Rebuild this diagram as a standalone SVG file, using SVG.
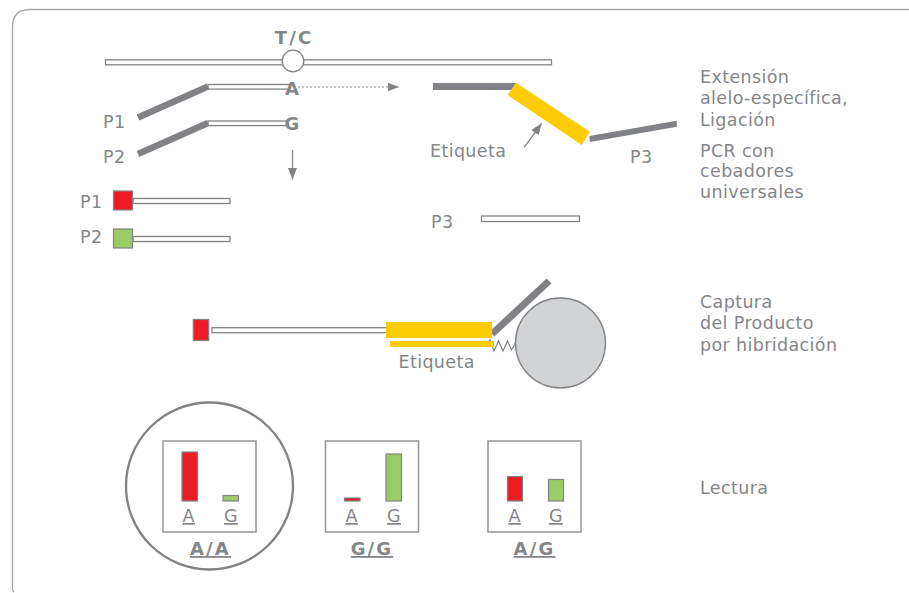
<svg xmlns="http://www.w3.org/2000/svg" width="909" height="593" viewBox="0 0 909 593">
<style>
text{font-family:"DejaVu Sans",Verdana,sans-serif;font-size:17.5px;letter-spacing:.37px;fill:#848689}
.b{font-weight:bold;font-size:18px;letter-spacing:2.2px;text-anchor:middle}
.s{font-weight:bold;font-size:18px;letter-spacing:0;text-anchor:middle}
.m{text-anchor:middle}
.u{text-decoration:underline}
.strand{fill:#fff;stroke:#808285;stroke-width:1.3}
.bar{fill:none;stroke:#808285;stroke-width:6.5}
.red{fill:#ed1c24;stroke:#808285;stroke-width:1.2}
.green{fill:#9ccc65;stroke:#808285;stroke-width:1.2}
.gold{fill:#ffcb05}
.box{fill:#fff;stroke:#939598;stroke-width:1.5}
</style>
<defs>
<marker id="head" markerUnits="userSpaceOnUse" markerWidth="12" markerHeight="10" refX="11.500" refY="5" orient="auto"><path d="M0 .5L11.500 5L0 9.500Z" fill="#808285"/></marker>
</defs>
<!-- outer frame, open on the right and at the bottom -->
<path id="frame" d="M909 9.500H30Q12.500 9.500 12.500 27V590.500L14 592" fill="none" stroke="#a7a9ac" stroke-width="1.300"/>

<g id="template">
<rect class="strand" x="105.500" y="59.800" width="446" height="5"/>
<circle cx="293" cy="61" r="10.800" fill="#fff" stroke="#808285" stroke-width="1.300"/>
<text class="b" x="294" y="44">T/C</text>
</g>
<g id="primer-p1">
<rect class="strand" x="208" y="84.500" width="82" height="4.600"/>
<path class="bar" d="M138 117.500L208 86.500"/>
<text x="103" y="127.500">P1</text>
<text class="s" x="292" y="95">A</text>
</g>
<g id="primer-p2">
<rect class="strand" x="208" y="121" width="80" height="4.600"/>
<path class="bar" d="M138 154L208 123"/>
<text x="103" y="163">P2</text>
<text class="s" x="292" y="130">G</text>
</g>
<g id="product-p1">
<text x="80" y="207.500">P1</text>
<rect class="strand" x="133" y="198.500" width="97" height="5"/>
<rect class="red" x="113.500" y="191" width="19" height="19"/>
</g>
<g id="product-p2">
<text x="80" y="243">P2</text>
<rect class="strand" x="133" y="236.500" width="97" height="5"/>
<rect class="green" x="113.500" y="229" width="19" height="19"/>
</g>
<g id="ligated-probe">
<path d="M433 83H516V90H433Z" fill="#808285"/>
<path class="gold" d="M516 82.700L590 131.700L581.700 145L507.700 95Z"/>
<path d="M589.300 136L676.700 120.700L677 126.700L590 142Z" fill="#808285"/>
<text x="430" y="156.500">Etiqueta</text>
<text x="630" y="163">P3</text>
</g>
<g id="product-p3">
<text x="431" y="228">P3</text>
<rect class="strand" x="481.500" y="216" width="98" height="5.500"/>
</g>
<g id="capture">
<rect class="red" x="193.300" y="319.500" width="15.400" height="21"/>
<rect class="strand" x="212" y="327.700" width="176" height="5"/>
<path d="M488 345L490 340L494 351L498.500 341L503 351L507.500 341L511.500 350L516 342" fill="none" stroke="#808285" stroke-width="1.200"/>
<circle cx="560.500" cy="343" r="45" fill="#d1d3d4" stroke="#808285" stroke-width="1.300"/>
<path class="bar" d="M492 334L549 281" style="stroke-width:7"/>
<rect class="gold" x="386" y="322" width="106" height="16"/>
<rect class="gold" x="390" y="341" width="104" height="6"/>
<text x="398.500" y="368.300">Etiqueta</text>
</g>
<g id="panel-aa">
<circle cx="209.500" cy="486" r="83.500" fill="none" stroke="#808285" stroke-width="2.300"/>
<rect class="box" x="163" y="441" width="93" height="91"/>
<rect class="red" x="182" y="452" width="15.500" height="49"/>
<rect class="green" x="223" y="495.500" width="15.500" height="5.500"/>
<text class="m u" x="188.700" y="522">A</text>
<text class="m u" x="231" y="522">G</text>
<text class="b u" x="210.500" y="555">A/A</text>
</g>
<g id="panel-gg">
<rect class="box" x="325.500" y="441" width="93" height="91"/>
<rect class="red" x="344.500" y="498" width="15.500" height="3"/>
<rect class="green" x="386" y="454" width="15.500" height="47"/>
<text class="m u" x="351.700" y="522">A</text>
<text class="m u" x="394" y="522">G</text>
<text class="b u" x="372" y="555">G/G</text>
</g>
<g id="panel-ag">
<rect class="box" x="488" y="441" width="93" height="91"/>
<rect class="red" x="507.500" y="476.500" width="15" height="24.500"/>
<rect class="green" x="548.500" y="479.500" width="15" height="21.500"/>
<text class="m u" x="514.700" y="522">A</text>
<text class="m u" x="556" y="522">G</text>
<text class="b u" x="534.500" y="555">A/G</text>
</g>
<g id="step-labels">
<text x="700" y="83">Extensión</text>
<text x="700" y="104">alelo-específica,</text>
<text x="700" y="125.500">Ligación</text>
<text x="700" y="156.500">PCR con</text>
<text x="700" y="176.500">cebadores</text>
<text x="700" y="197.500">universales</text>
<text x="700" y="307.500">Captura</text>
<text x="700" y="329">del Producto</text>
<text x="700" y="350.500">por hibridación</text>
<text x="700" y="494">Lectura</text>
</g>
<g id="connectors" fill="none" stroke="#808285" stroke-width="1.200">
<path d="M298 87H399" stroke-dasharray="2 2" marker-end="url(#head)"/>
<path d="M292.500 150V179.500" marker-end="url(#head)"/>
<path d="M524 147.700L541.700 123.300" marker-end="url(#head)"/>
</g>
</svg>
